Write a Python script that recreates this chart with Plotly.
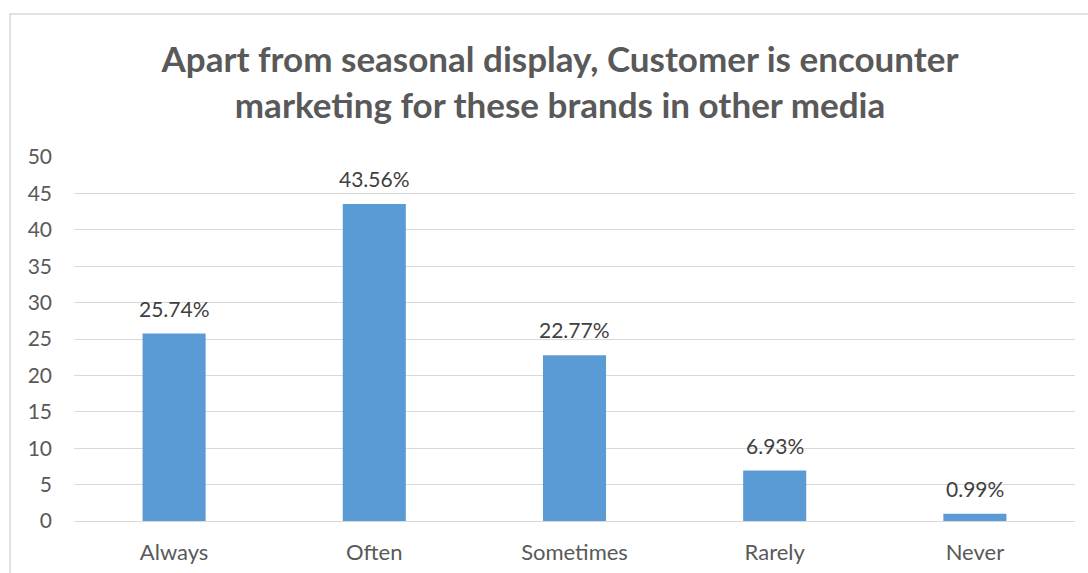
import plotly.graph_objects as go

categories = ["Always", "Often", "Sometimes", "Rarely", "Never"]
values = [25.74, 43.56, 22.77, 6.93, 0.99]
labels = ["25.74%", "43.56%", "22.77%", "6.93%", "0.99%"]

L, R, T, B = 74, 13, 157, 52
W, H = 1088, 573
pw, ph = W - L - R, H - T - B

fig = go.Figure(go.Bar(
    x=categories, y=values,
    marker=dict(color="#5B9BD5", line=dict(width=0)),
    width=0.315,
))

for c, v, t in zip(categories, values, labels):
    fig.add_annotation(x=c, y=v, text=t, showarrow=False, yanchor="bottom",
                       yshift=11, font=dict(family="Lato", size=21, color="#404040"))

fig.update_layout(
    width=W, height=H, margin=dict(l=L, r=R, t=T, b=B, autoexpand=False),
    paper_bgcolor="white", plot_bgcolor="white",
    showlegend=False,
    font=dict(family="Lato", color="#595959"),
    title=dict(
        text="Apart from seasonal display, Customer is encounter<br>marketing for these brands in other media",
        x=(560 - L) / pw, xref="paper", xanchor="center",
        y=1 - 72 / H, yref="container", yanchor="middle",
        font=dict(family="Lato", size=35, color="#595959", weight="bold"),
    ),
    xaxis=dict(showgrid=False, showline=False, ticks="", automargin=False,
               tickfont=dict(size=22, color="#595959")),
    yaxis=dict(range=[0, 50], dtick=5, showgrid=True, gridcolor="#D9D9D9", gridwidth=1,
               zeroline=True, zerolinecolor="#D9D9D9", zerolinewidth=1,
               showline=False, ticks="", ticklen=0, automargin=False,
               tickfont=dict(size=21, color="#595959")),
    shapes=[dict(type="rect", xref="paper", yref="paper",
                 x0=(10 - L) / pw, x1=(W + 20 - L) / pw,
                 y0=(H - T - B - (H + 20 - T)) / ph, y1=(H - B - 14) / ph,
                 line=dict(color="#D9D9D9", width=1.5), fillcolor="rgba(0,0,0,0)", layer="below")],
)
fig.update_xaxes(ticklabelstandoff=16)
fig.update_yaxes(ticklabelstandoff=21)

fig.write_html("out.html")
